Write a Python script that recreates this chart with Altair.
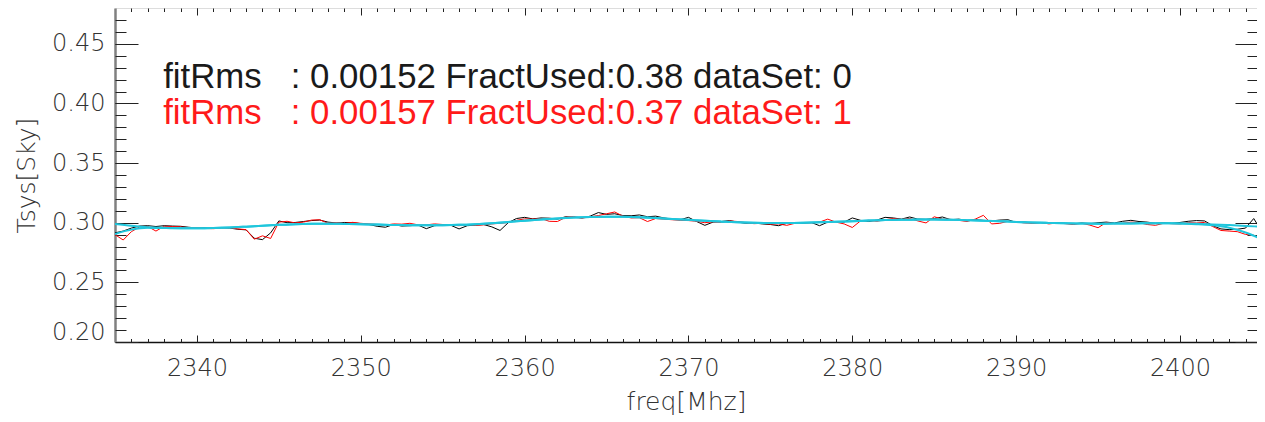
import altair as alt
import pandas as pd

# ---- data ----
freq = [2335.0 + 0.5 * i for i in range(141)]

black = [
    0.2915, 0.2930, 0.2955, 0.2972, 0.2975, 0.2968, 0.2975, 0.2972, 0.2970, 0.2962,
    0.2955, 0.2958, 0.2952, 0.2960, 0.2955, 0.2945, 0.2940, 0.2870, 0.2858, 0.2915,
    0.3015, 0.3000, 0.3002, 0.3010, 0.3018, 0.3022, 0.3005, 0.2998, 0.3002, 0.3000,
    0.2992, 0.2985, 0.2970, 0.2962, 0.2985, 0.2972, 0.2975, 0.2980, 0.2950, 0.2975,
    0.2982, 0.2978, 0.2948, 0.2975, 0.2980, 0.2985, 0.2965, 0.2935, 0.3000, 0.3035,
    0.3045, 0.3032, 0.3040, 0.3038, 0.3030, 0.3050, 0.3045, 0.3040, 0.3055, 0.3085,
    0.3070, 0.3075, 0.3060, 0.3058, 0.3065, 0.3050, 0.3055, 0.3040, 0.3030, 0.3025,
    0.3045, 0.3010, 0.2978, 0.3005, 0.3010, 0.3018, 0.3005, 0.2995, 0.2998, 0.2990,
    0.2985, 0.2975, 0.2995, 0.3000, 0.2995, 0.3002, 0.2975, 0.3005, 0.3010, 0.3005,
    0.3040, 0.3020, 0.3010, 0.3022, 0.3045, 0.3040, 0.3030, 0.3048, 0.3030, 0.3028,
    0.3035, 0.3048, 0.3025, 0.3030, 0.3018, 0.3025, 0.3020, 0.3015, 0.3022, 0.3025,
    0.3002, 0.3005, 0.2998, 0.3000, 0.2995, 0.3002, 0.2995, 0.2990, 0.2998, 0.2992,
    0.3000, 0.3005, 0.2998, 0.3012, 0.3020, 0.3010, 0.3005, 0.2995, 0.3000, 0.2995,
    0.3002, 0.3012, 0.3018, 0.3015, 0.2975, 0.2948, 0.2942, 0.2945, 0.2955, 0.3035,
    0.2925,
]

red = [
    0.2900, 0.2855, 0.2925, 0.2965, 0.2968, 0.2930, 0.2970, 0.2968, 0.2965, 0.2958,
    0.2960, 0.2952, 0.2950, 0.2955, 0.2958, 0.2948, 0.2942, 0.2862, 0.2890, 0.2868,
    0.3005, 0.3012, 0.2998, 0.3005, 0.3022, 0.3025, 0.2995, 0.3000, 0.2994, 0.3003,
    0.2995, 0.2990, 0.2985, 0.2980, 0.2990, 0.2988, 0.2995, 0.2982, 0.2982, 0.2990,
    0.2985, 0.2980, 0.2975, 0.2985, 0.2978, 0.2982, 0.2990, 0.2995, 0.3002, 0.3020,
    0.3032, 0.3030, 0.3035, 0.3012, 0.3010, 0.3045, 0.3052, 0.3038, 0.3050, 0.3060,
    0.3075, 0.3090, 0.3055, 0.3040, 0.3042, 0.3010, 0.3035, 0.3030, 0.3025, 0.3020,
    0.3018, 0.3012, 0.3000, 0.3008, 0.3002, 0.3015, 0.3010, 0.3000, 0.2992, 0.2995,
    0.2988, 0.2990, 0.2978, 0.2995, 0.3002, 0.2998, 0.3005, 0.3030, 0.3005, 0.2990,
    0.2960, 0.3015, 0.3020, 0.3012, 0.3025, 0.3035, 0.3028, 0.3035, 0.3015, 0.2998,
    0.3050, 0.3030, 0.3028, 0.3020, 0.3010, 0.3030, 0.3062, 0.2990, 0.2995, 0.3012,
    0.3008, 0.2998, 0.2995, 0.3002, 0.2990, 0.2998, 0.2992, 0.2985, 0.2995, 0.2980,
    0.2958, 0.3002, 0.2992, 0.2995, 0.3005, 0.3000, 0.2985, 0.2978, 0.2995, 0.2992,
    0.2990, 0.3000, 0.2998, 0.3002, 0.2968, 0.2935, 0.2930, 0.2925, 0.2902, 0.2895,
    0.2860,
]

fit_freq = list(range(2335, 2406))

fit0 = [
    0.2990, 0.2975, 0.2963, 0.2957, 0.2954, 0.2953, 0.2955, 0.2960, 0.2967, 0.2975,
    0.2982, 0.2988, 0.2991, 0.2992, 0.2990, 0.2987, 0.2984, 0.2981, 0.2979, 0.2978,
    0.2979, 0.2982, 0.2988, 0.2996, 0.3006, 0.3017, 0.3027, 0.3036, 0.3043, 0.3048,
    0.3050, 0.3049, 0.3045, 0.3039, 0.3032, 0.3024, 0.3016, 0.3009, 0.3003, 0.2999,
    0.2997, 0.2997, 0.2999, 0.3003, 0.3008, 0.3013, 0.3018, 0.3022, 0.3025, 0.3026,
    0.3026, 0.3024, 0.3021, 0.3017, 0.3012, 0.3007, 0.3002, 0.2998, 0.2995, 0.2993,
    0.2992, 0.2993, 0.2994, 0.2995, 0.2995, 0.2994, 0.2991, 0.2986, 0.2980, 0.2973,
    0.2966,
]

fit1 = [
    0.2905, 0.2942, 0.2958, 0.2955, 0.2954, 0.2953, 0.2955, 0.2960, 0.2967, 0.2975,
    0.2982, 0.2988, 0.2991, 0.2992, 0.2990, 0.2987, 0.2984, 0.2981, 0.2979, 0.2978,
    0.2979, 0.2982, 0.2988, 0.2996, 0.3006, 0.3017, 0.3027, 0.3036, 0.3043, 0.3048,
    0.3050, 0.3049, 0.3045, 0.3039, 0.3032, 0.3024, 0.3016, 0.3009, 0.3003, 0.2999,
    0.2997, 0.2997, 0.2999, 0.3003, 0.3008, 0.3013, 0.3018, 0.3022, 0.3025, 0.3026,
    0.3026, 0.3024, 0.3021, 0.3017, 0.3012, 0.3007, 0.3002, 0.2998, 0.2995, 0.2993,
    0.2992, 0.2993, 0.2994, 0.2995, 0.2995, 0.2994, 0.2988, 0.2978, 0.2958, 0.2918,
    0.2860,
]

note_text = [
    "fitRms\u00a0\u00a0\u00a0: 0.00152 FractUsed:0.38 dataSet: 0",
    "fitRms\u00a0\u00a0\u00a0: 0.00157 FractUsed:0.37 dataSet: 1",
]
note_color = ["#1a1a1a", "#ff1a1a"]
note_freq = [2337.94, 2337.94]
note_tsys = [0.4129, 0.3827]

x_major = [2340, 2350, 2360, 2370, 2380, 2390, 2400]
x_minor = list(range(2336, 2405))
y_major = [0.20, 0.25, 0.30, 0.35, 0.40, 0.45]
y_minor = [round(0.20 + 0.01 * i, 2) for i in range(1, 28)]

# ---- chart ----
W, H = 1142, 334
LBL_FONT = "DejaVu Sans"
xs = alt.Scale(domain=[2335, 2404.7], nice=False, zero=False)
ys = alt.Scale(domain=[0.20, 0.48], nice=False, zero=False)


def tick_axis(orient, offset, values, size):
    return alt.Axis(orient=orient, offset=offset, values=values, tickSize=size,
                    labels=False, domain=False, grid=False, title=None,
                    ticks=True, tickColor="#222222", tickWidth=1)


def line_layer(xv, yv, color, width, ax_x, ax_y, interp="linear"):
    df = pd.DataFrame({"freq": xv, "tsys": yv})
    return alt.Chart(df).mark_line(color=color, strokeWidth=width, clip=True,
                                   interpolate=interp).encode(
        x=alt.X("freq:Q", scale=xs, axis=ax_x),
        y=alt.Y("tsys:Q", scale=ys, axis=ax_y),
    )


x_lab = alt.Axis(orient="bottom", values=x_major, format="d", ticks=False, tickSize=0,
                 domain=True, domainColor="#111111", domainWidth=1.5,
                 grid=False, labelPadding=14, labelFont=LBL_FONT,
                 labelFontSize=24, labelFontWeight=200, labelColor="#333333",
                 title="freq[Mhz]", titleFont=LBL_FONT, titleFontSize=25,
                 titleFontWeight=200, titleColor="#333333", titlePadding=9)
y_lab = alt.Axis(orient="left", values=y_major, format=".2f", ticks=False, tickSize=0,
                 domain=True, domainColor="#808080", domainWidth=2.5,
                 grid=False, labelPadding=10, labelFont=LBL_FONT,
                 labelFontSize=24, labelFontWeight=200, labelColor="#333333",
                 labelFlush=True, labelFlushOffset=2,
                 title="Tsys[Sky]", titleFont=LBL_FONT, titleFontSize=25,
                 titleFontWeight=200, titleColor="#333333", titlePadding=12)

l_black = line_layer(freq, black, "#000000", 1, x_lab, y_lab)
l_red = line_layer(freq, red, "#ff0000", 1,
                   tick_axis("top", -H, x_major, 7),
                   tick_axis("right", -W, y_major, 23))
l_fit0 = line_layer(fit_freq, fit0, "#1fc6dc", 2,
                    tick_axis("top", -H, x_minor, 3.5),
                    tick_axis("right", -W, y_minor, 11), interp="monotone")
l_fit1 = line_layer(fit_freq, fit1, "#1fc6dc", 2,
                    tick_axis("bottom", -H, x_major, 7),
                    tick_axis("left", -W, y_major, 22), interp="monotone")

notes = pd.DataFrame({"freq": note_freq, "tsys": note_tsys,
                      "text": note_text, "color": note_color})
l_notes = alt.Chart(notes).mark_text(align="left", baseline="alphabetic",
                                     font="Liberation Sans", fontSize=34.8).encode(
    x=alt.X("freq:Q", scale=xs, axis=tick_axis("bottom", -H, x_minor, 3.5)),
    y=alt.Y("tsys:Q", scale=ys, axis=tick_axis("left", -W, y_minor, 10)),
    text="text:N",
    color=alt.Color("color:N", scale=None),
)

chart = (
    alt.layer(l_black, l_red, l_fit0, l_fit1, l_notes)
    .resolve_axis(x="independent", y="independent")
    .properties(width=W, height=H,
                padding={"left": 107, "top": 0, "right": 0, "bottom": 80},
                autosize=alt.AutoSizeParams(type="none"))
    .configure_view(stroke="#222222", strokeWidth=1.5)
    .configure(background="white")
)

chart.save("out.html", embed_options={"renderer": "svg", "actions": False})
